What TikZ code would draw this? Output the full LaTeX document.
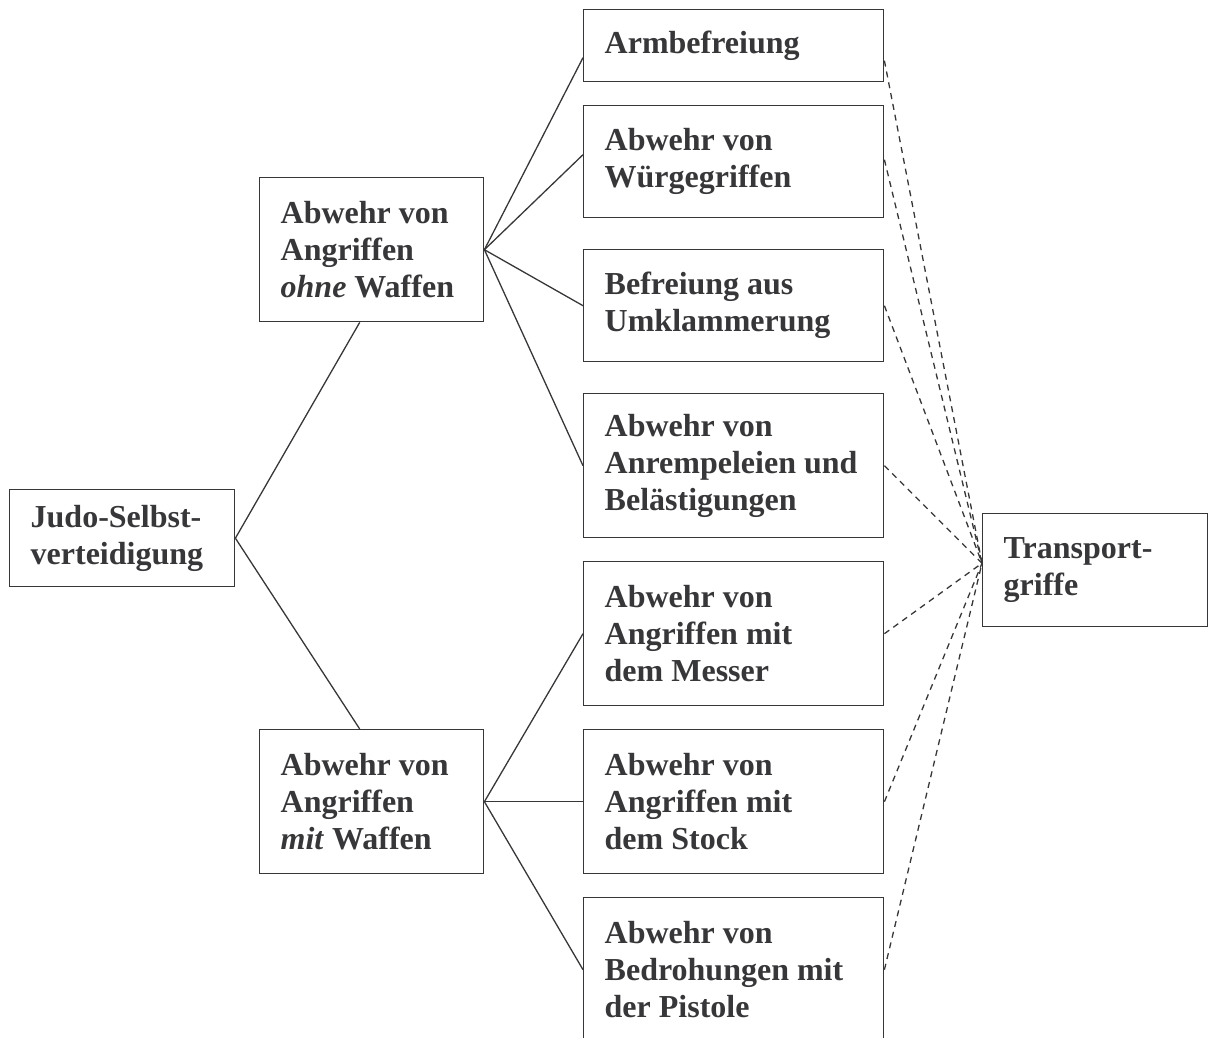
\documentclass[tikz,border=0pt]{standalone}
\usepackage{fontspec}
\setmainfont{Liberation Serif}
\definecolor{ink}{RGB}{55,55,58}

\begin{document}
\begin{tikzpicture}[x=1pt,y=-1pt,
  box/.style={draw=ink,line width=1.4pt,anchor=north west,inner xsep=21pt,inner ysep=0pt,
    align=flush left,text=ink,font=\bfseries\fontsize{32}{37}\selectfont},
  tie/.style={draw=ink,line width=1.3pt},
  link/.style={draw=ink,line width=1.3pt,dash pattern=on 6pt off 5pt}]
   \useasboundingbox (0,0) rectangle (1208,1038);
   \clip (0,0) rectangle (1208,1038);

   \node[box,text width=183pt,minimum height=97pt] (k0) at (9,489) {Judo-Selbst-\\verteidigung};
   \node[box,text width=182pt,minimum height=144pt] (k1) at (259,177) {Abwehr von\\Angriffen\\\textit{ohne} Waffen};
   \node[box,text width=182pt,minimum height=144pt] (k2) at (259,729) {Abwehr von\\Angriffen\\\textit{mit} Waffen};
   \node[box,text width=258pt,minimum height=72pt] (k3) at (583,9) {Armbefreiung};
   \node[box,text width=258pt,minimum height=112pt] (k4) at (583,105) {Abwehr von\\Würgegriffen};
   \node[box,text width=258pt,minimum height=112pt] (k5) at (583,249) {Befreiung aus\\Umklammerung};
   \node[box,text width=258pt,minimum height=144pt] (k6) at (583,393) {Abwehr von\\Anrempeleien und\\Belästigungen};
   \node[box,text width=258pt,minimum height=144pt] (k7) at (583,561) {Abwehr von\\Angriffen mit\\dem Messer};
   \node[box,text width=258pt,minimum height=144pt] (k8) at (583,729) {Abwehr von\\Angriffen mit\\dem Stock};
   \node[box,text width=258pt,minimum height=144pt] (k9) at (583,897) {Abwehr von\\Bedrohungen mit\\der Pistole};
   \node[box,text width=183pt,minimum height=113pt] (k10) at (982,513) {Transport-\\griffe};
   \coordinate (t) at ([yshift=7pt]k10.west);

   \path[tie] (k0.east) -- ([xshift=-12pt]k1.south);
   \path[tie] (k0.east) -- ([xshift=-12pt]k2.north);
   \path[tie] (k1.east) -- ([yshift=-12pt]k3.west);
   \path[tie] (k1.east) -- ([yshift=7pt]k4.west);
   \path[tie] (k1.east) -- (k5.west);
   \path[tie] (k1.east) -- (k6.west);
   \path[tie] (k2.east) -- (k7.west);
   \path[tie] (k2.east) -- (k8.west);
   \path[tie] (k2.east) -- (k9.west);

   \path[link] ([yshift=-15pt]k3.east) -- (t);
   \path[link] ([yshift=2pt]k4.east) -- (t);
   \path[link] (k5.east) -- (t);
   \path[link] (k6.east) -- (t);
   \path[link] (k7.east) -- (t);
   \path[link] (k8.east) -- (t);
   \path[link] (k9.east) -- (t);
\end{tikzpicture}
\end{document}
